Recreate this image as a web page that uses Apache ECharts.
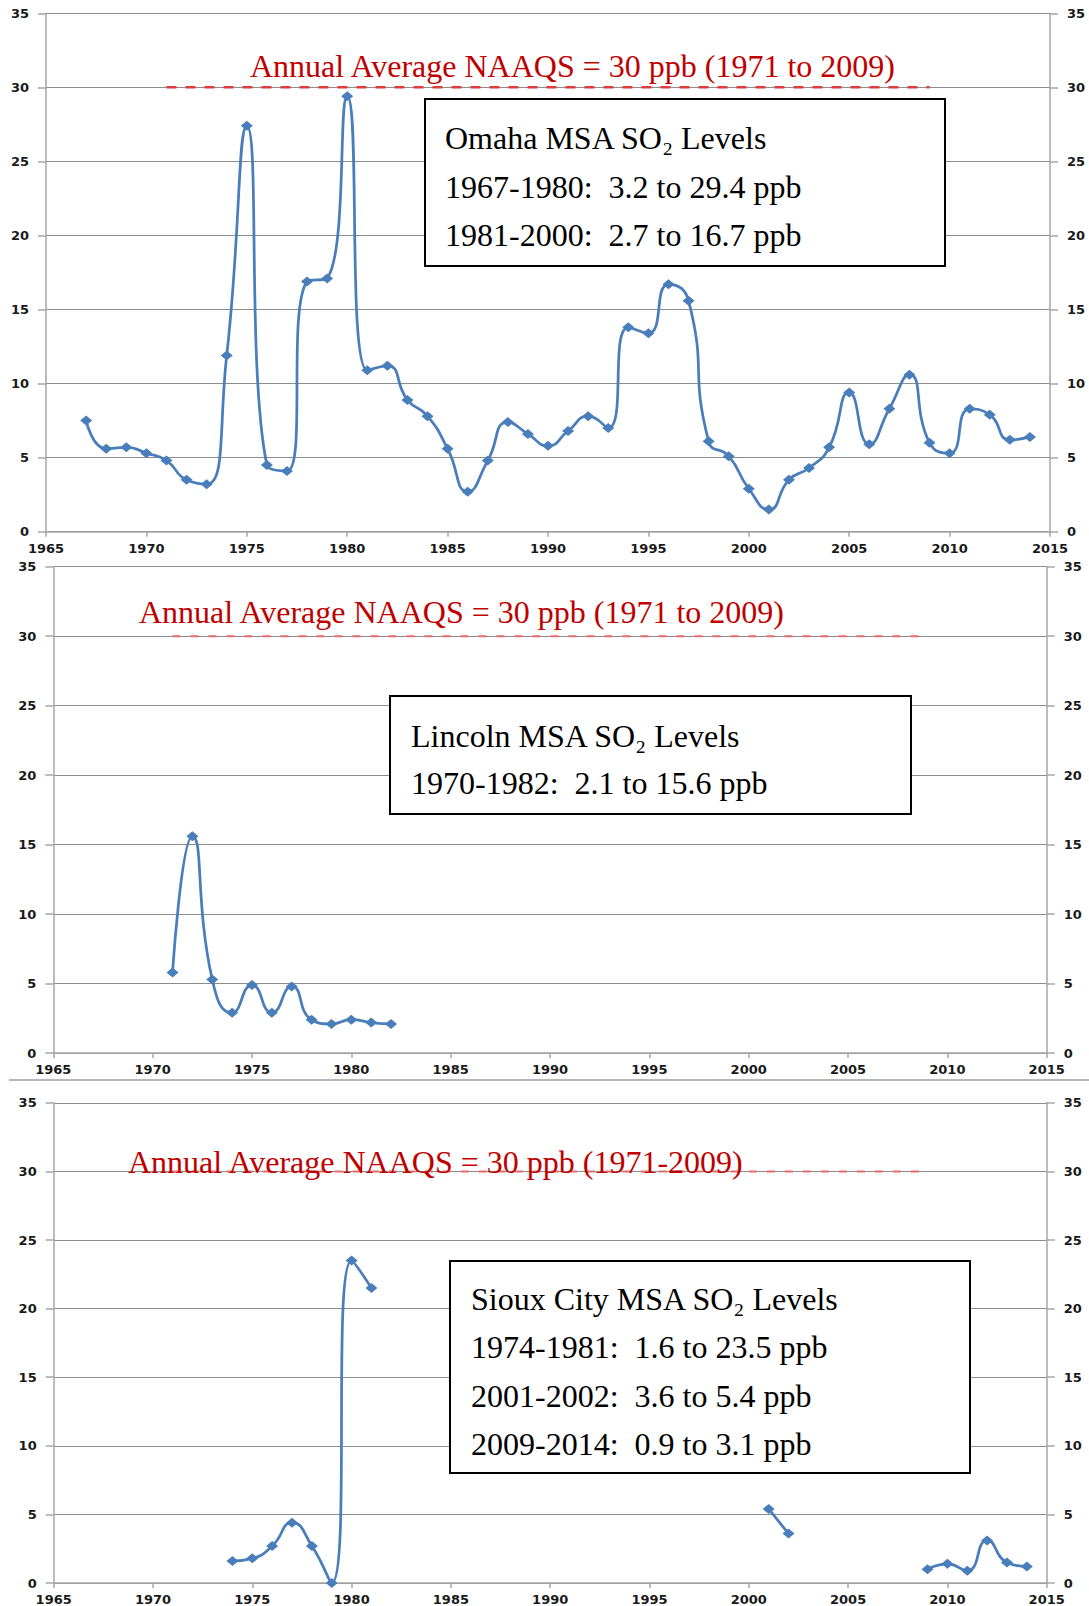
<!DOCTYPE html>
<html>
<head>
<meta charset="utf-8">
<title>MSA SO2 Levels</title>
<script src="https://cdn.jsdelivr.net/npm/echarts@6/dist/echarts.min.js"></script>
<style>
  html, body { margin: 0; padding: 0; background: #fff; }
  #chart { width: 1089px; height: 1606px; }
</style>
</head>
<body>
<div id="chart"></div>
<script>
// axis ticks
const yearTicks = [1965, 1970, 1975, 1980, 1985, 1990, 1995, 2000, 2005, 2010, 2015]
const ppbTicks = [0, 5, 10, 15, 20, 25, 30, 35]

// NAAQS line (1971 - 2009, 30 ppb)
const naaqsYears = [1971, 2009]
const naaqsLevel = 30

// Omaha MSA
const omahaYears = [1967, 1968, 1969, 1970, 1971, 1972, 1973, 1974, 1975, 1976, 1977, 1978,
  1979, 1980, 1981, 1982, 1983, 1984, 1985, 1986, 1987, 1988, 1989, 1990, 1991, 1992, 1993,
  1994, 1995, 1996, 1997, 1998, 1999, 2000, 2001, 2002, 2003, 2004, 2005, 2006, 2007, 2008,
  2009, 2010, 2011, 2012, 2013, 2014]
const omahaValues = [7.5, 5.6, 5.7, 5.3, 4.8, 3.5, 3.2, 11.9, 27.4, 4.5, 4.1, 16.9,
  17.1, 29.4, 10.9, 11.2, 8.9, 7.8, 5.6, 2.7, 4.8, 7.4, 6.6, 5.8, 6.8, 7.8, 7.0,
  13.8, 13.4, 16.7, 15.6, 6.1, 5.1, 2.9, 1.5, 3.5, 4.3, 5.7, 9.4, 5.9, 8.3, 10.6,
  6.0, 5.3, 8.3, 7.9, 6.2, 6.4]

// Lincoln MSA
const lincolnYears = [1971, 1972, 1973, 1974, 1975, 1976, 1977, 1978, 1979, 1980, 1981, 1982]
const lincolnValues = [5.8, 15.6, 5.3, 2.9, 4.9, 2.9, 4.8, 2.4, 2.1, 2.4, 2.2, 2.1]

// Sioux City MSA (null = no data, line breaks)
const siouxYears = [1974, 1975, 1976, 1977, 1978, 1979, 1980, 1981, 1982,
  2001, 2002, 2003, 2009, 2010, 2011, 2012, 2013, 2014]
const siouxValues = [1.6, 1.8, 2.7, 4.4, 2.7, 0, 23.5, 21.5, null,
  5.4, 3.6, null, 1.0, 1.4, 0.9, 3.1, 1.5, 1.2]

const lineColor = '#4a7ebb'
const axisColor = '#a6a6a6'
const labelFont = { color: '#1a1a1a', fontFamily: 'DejaVu Sans', fontWeight: 'bold', fontSize: 13 }
const serif = '"Liberation Serif", "Times New Roman", serif'

function pairs(xs, ys) {
  return xs.map((x, i) => [x, ys[i] == null ? '-' : ys[i]])
}

function xAxisFor(gridIndex) {
  return {
    type: 'value',
    gridIndex: gridIndex,
    min: yearTicks[0],
    max: yearTicks[yearTicks.length - 1],
    interval: yearTicks[1] - yearTicks[0],
    axisLine: { show: true, lineStyle: { color: axisColor, width: 1.5 } },
    axisTick: { show: true, length: 5, lineStyle: { color: axisColor, width: 1.5 } },
    splitLine: { show: false },
    axisLabel: Object.assign({ margin: 10, formatter: v => String(v) }, labelFont)
  }
}

function yAxisFor(gridIndex, position) {
  return {
    type: 'value',
    gridIndex: gridIndex,
    position: position,
    min: ppbTicks[0],
    max: ppbTicks[ppbTicks.length - 1],
    interval: ppbTicks[1] - ppbTicks[0],
    axisLine: { show: true, lineStyle: { color: axisColor, width: 1.5 } },
    axisTick: { show: true, length: 8, lineStyle: { color: axisColor, width: 1.5 } },
    splitLine: { show: position === 'left', lineStyle: { color: '#8c8c8c', width: 1 } },
    axisLabel: Object.assign({ margin: 17 }, labelFont)
  }
}

function dataSeries(gridIndex, xs, ys) {
  return {
    type: 'line',
    xAxisIndex: gridIndex,
    yAxisIndex: gridIndex * 2,
    data: pairs(xs, ys),
    smooth: 0.55,
    connectNulls: false,
    symbol: 'diamond',
    symbolSize: [12, 10],
    clip: false,
    lineStyle: { color: lineColor, width: 2.75 },
    itemStyle: { color: lineColor },
    z: 3
  }
}

function naaqsSeries(gridIndex, dash, color, width) {
  return {
    type: 'line',
    xAxisIndex: gridIndex,
    yAxisIndex: gridIndex * 2,
    data: naaqsYears.map(y => [y, naaqsLevel]),
    symbol: 'none',
    silent: true,
    lineStyle: { type: dash, color: color, width: width },
    z: 2
  }
}

function label(x, y, text, color) {
  return {
    type: 'text', x: x, y: y, z: 101,
    style: { text: text, font: '32px ' + serif, fill: color, verticalAlign: 'middle' }
  }
}

function box(x, y, w, h) {
  return {
    type: 'rect', z: 100,
    shape: { x: x, y: y, width: w, height: h },
    style: { fill: '#fff', stroke: '#000', lineWidth: 2 }
  }
}

const red = '#c00000'
const sp = '\u00a0'

const chart = echarts.init(document.getElementById('chart'), null, { renderer: 'svg' })
chart.setOption({
  animation: false,
  backgroundColor: '#fff',
  grid: [
    { left: 46, top: 13.3, width: 1004, height: 518.4 },
    { left: 53.3, top: 566.7, width: 993.4, height: 486.4 },
    { left: 53.7, top: 1102.8, width: 993, height: 482.8 }
  ],
  xAxis: [xAxisFor(0), xAxisFor(1), xAxisFor(2)],
  yAxis: [
    yAxisFor(0, 'left'), yAxisFor(0, 'right'),
    yAxisFor(1, 'left'), yAxisFor(1, 'right'),
    yAxisFor(2, 'left'), yAxisFor(2, 'right')
  ],
  series: [
    naaqsSeries(0, [10, 9], '#e23b3b', 2.5),
    naaqsSeries(1, [8, 10], '#e56a6a', 2),
    naaqsSeries(2, [8, 10], '#e56a6a', 2),
    dataSeries(0, omahaYears, omahaValues),
    dataSeries(1, lincolnYears, lincolnValues),
    dataSeries(2, siouxYears, siouxValues)
  ],
  graphic: [
    { type: 'line', z: 90, shape: { x1: 9, y1: 1080, x2: 1089, y2: 1080 },
      style: { stroke: '#a0a0a0', lineWidth: 1.5 } },

    label(250, 66, 'Annual Average NAAQS = 30 ppb (1971 to 2009)', red),
    box(425, 99, 520, 167),
    label(445, 138, 'Omaha MSA SO₂ Levels', '#000'),
    label(445, 187, '1967-1980:' + sp + ' 3.2 to 29.4 ppb', '#000'),
    label(445, 235, '1981-2000:' + sp + ' 2.7 to 16.7 ppb', '#000'),

    label(139, 612, 'Annual Average NAAQS = 30 ppb (1971 to 2009)', red),
    box(390, 696, 521, 118),
    label(411, 736, 'Lincoln MSA SO₂ Levels', '#000'),
    label(411, 783, '1970-1982:' + sp + ' 2.1 to 15.6 ppb', '#000'),

    label(128, 1162, 'Annual Average NAAQS = 30 ppb (1971-2009)', red),
    box(450, 1261, 520, 212),
    label(471, 1299, 'Sioux City MSA SO₂ Levels', '#000'),
    label(471, 1347, '1974-1981:' + sp + ' 1.6 to 23.5 ppb', '#000'),
    label(471, 1396, '2001-2002:' + sp + ' 3.6 to 5.4 ppb', '#000'),
    label(471, 1444, '2009-2014:' + sp + ' 0.9 to 3.1 ppb', '#000')
  ]
})
</script>
</body>
</html>
